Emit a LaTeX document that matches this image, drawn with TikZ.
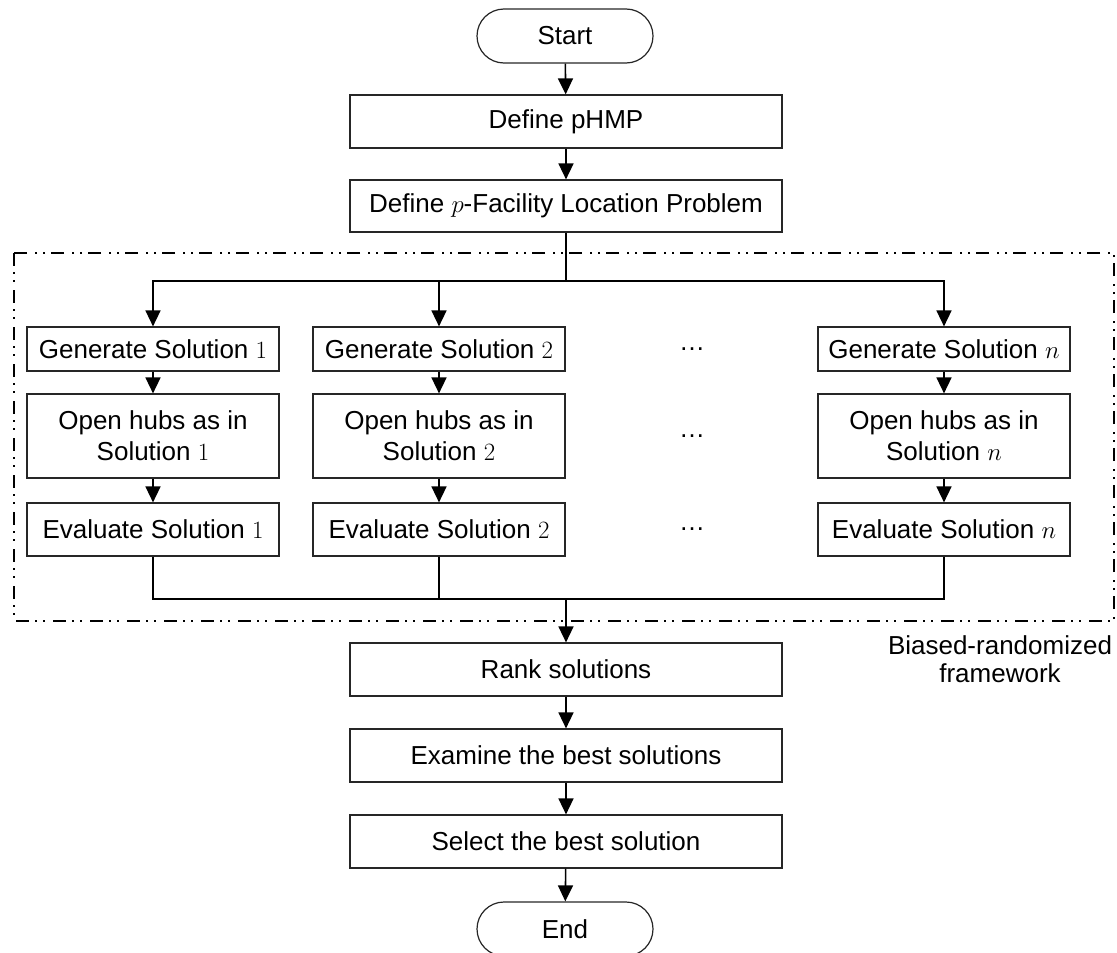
\documentclass[tikz,border=0pt]{standalone}
\usepackage{fontspec}
\setmainfont{Liberation Sans}
\usetikzlibrary{arrows.meta}
\tikzset{
  box/.style={draw=black!85, line width=1.2pt, minimum width=#1, inner sep=0pt, align=center, font=\fontsize{26}{31}\selectfont},
  box/.default=432pt,
  term/.style={draw=black!85, line width=1.2pt, minimum width=176pt, minimum height=54pt, rounded corners=27pt, inner sep=0pt, font=\fontsize{26}{31}\selectfont},
  conn/.style={line width=1.6pt, black},
  arr/.style={conn, -{Triangle[length=16pt,width=15pt]}},
  frame/.style={line width=1.5pt, black, dash pattern=on 13pt off 6pt on 2pt off 6pt on 2pt off 8pt},
  dotsnode/.style={inner sep=0pt, font=\fontsize{26}{31}\selectfont},
}
\begin{document}
\begin{tikzpicture}[x=1pt,y=-1pt]
\useasboundingbox (0,0) rectangle (1117,953);
% frame
\draw[frame] (14,253) rectangle (1114,621);
\node[align=center, inner sep=0pt, font=\fontsize{26}{28}\selectfont] (lbl) at (1000,659) {Biased-randomized\\framework};
% main column
\node[term] (start) at (565,36) {Start};
\node[box, minimum height=53pt] (def1) at (566,121.5) {Define pHMP};
\node[box, minimum height=52pt] (def2) at (566,206) {Define $p$-Facility Location Problem};
% branches
\foreach \i/\x/\s in {1/153/1, 2/439/2, n/944/n}{
  \node[box=252pt, minimum height=44pt] (gen\i) at (\x,349) {Generate Solution $\s$};
  \node[box=252pt, minimum height=84pt] (open\i) at (\x,436) {Open hubs as in\\Solution $\s$};
  \node[box=252pt, minimum height=53pt] (eval\i) at (\x,529.5) {Evaluate Solution $\s$};
}
\node[dotsnode] (d1) at (692,349) {\ldots};
\node[dotsnode] (d2) at (692,436) {\ldots};
\node[dotsnode] (d3) at (692,529.5) {\ldots};
% lower column
\node[box, minimum height=53pt] (rank) at (566,669.5) {Rank solutions};
\node[box, minimum height=53pt] (exam) at (566,755.5) {Examine the best solutions};
\node[box, minimum height=53pt] (sel) at (566,841.5) {Select the best solution};
\node[term] (end) at (565,929) {End};
% connectors
\coordinate (br) at (566,281);
\coordinate (mg) at (566,599);
\draw[arr] (start) -- (def1);
\draw[arr] (def1) -- (def2);
\draw[conn] (def2.south) -- (br);
\foreach \i in {1,2,n}{
  \draw[arr] (br) -| (gen\i.north);
  \draw[arr] (gen\i) -- (open\i);
  \draw[arr] (open\i) -- (eval\i);
  \draw[conn] (eval\i.south) |- (mg);
}
\draw[arr] (mg) -- (rank);
\draw[arr] (rank) -- (exam);
\draw[arr] (exam) -- (sel);
\draw[arr] (sel) -- (end);
\end{tikzpicture}
\end{document}
